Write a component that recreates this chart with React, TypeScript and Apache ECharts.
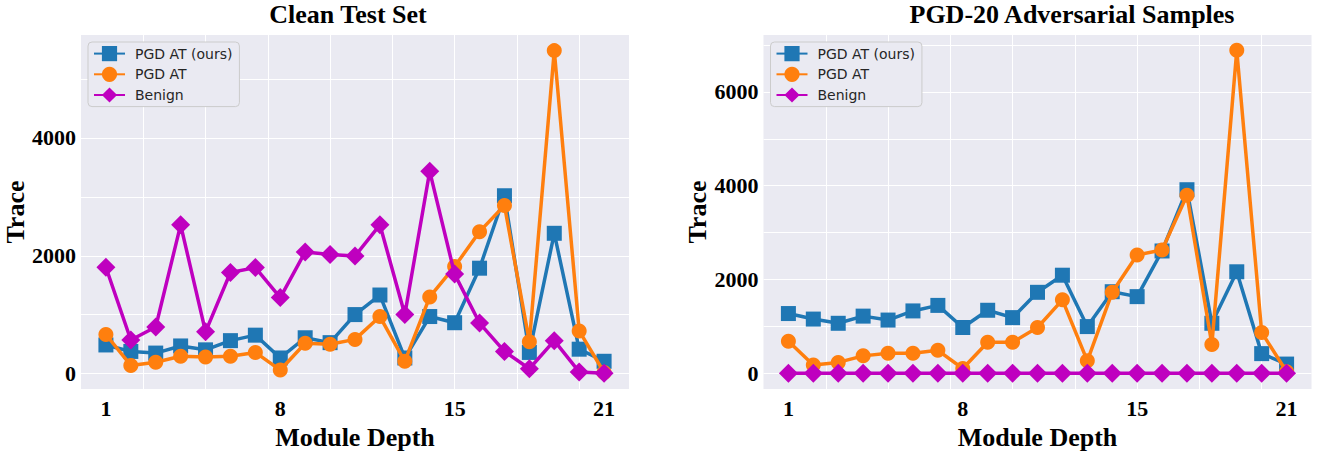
import React, { useEffect, useRef } from 'react';
import * as echarts from 'echarts';

const depths = [1, 2, 3, 4, 5, 6, 7, 8, 9, 10, 11, 12, 13, 14, 15, 16, 17, 18, 19, 20, 21];
const xTickLabels = [1, 8, 15, 21];

const cleanOurs = [487, 377, 349, 470, 404, 560, 653, 266, 609, 526, 1002, 1334, 266, 969, 864, 1789, 3018, 360, 2381, 415, 210];
const cleanPgd = [664, 139, 194, 294, 282, 294, 360, 61, 515, 498, 581, 969, 210, 1301, 1816, 2409, 2852, 543, 5480, 725, 20];
const cleanBenign = [1805, 570, 792, 2525, 709, 1716, 1799, 1290, 2065, 2021, 1995, 2525, 1002, 3433, 1689, 858, 377, 83, 560, 30, 5];

const advOurs = [1272, 1154, 1064, 1217, 1133, 1328, 1446, 974, 1342, 1185, 1725, 2090, 994, 1738, 1633, 2607, 3914, 1064, 2163, 417, 194];
const advPgd = [681, 173, 229, 369, 424, 424, 487, 100, 661, 661, 974, 1564, 264, 1725, 2523, 2628, 3796, 612, 6889, 870, 30];
const advBenign = [0, 0, 0, 0, 0, 0, 0, 0, 0, 0, 0, 0, 0, 0, 0, 0, 0, 0, 0, 0, 0];

const seriesNames = ['PGD AT (ours)', 'PGD AT', 'Benign'];
const seriesColors = ['#1f77b4', '#ff7f0e', '#bf00bf'];
const seriesSymbols = ['rect', 'circle', 'diamond'];
const symbolSizes = [15, 15, 19];

const titles = ['Clean Test Set', 'PGD-20 Adversarial Samples'];
const titleCenters = [348, 1072];
const yMins = [-262, -340];
const yMaxs = [5745, 7215];
const yLabelStep = 2000;

const SERIF = "'Liberation Serif', 'Times New Roman', serif";
const SANS = "'DejaVu Sans', sans-serif";

const grids = [
  { left: 81, top: 35, width: 548, height: 362 },
  { left: 763.5, top: 35, width: 548, height: 362 },
];

export default function App() {
  const ref = useRef<HTMLDivElement>(null);
  useEffect(() => {
    if (!ref.current) return;
    const chart = echarts.init(ref.current, null, { renderer: 'svg' });
    const panels = [
      [cleanOurs, cleanPgd, cleanBenign],
      [advOurs, advPgd, advBenign],
    ];
    const xAxis: any[] = [];
    const yAxis: any[] = [];
    const series: any[] = [];
    const legend: any[] = [];
    const title: any[] = [];
    grids.forEach((g, gi) => {
      xAxis.push({
        type: 'value', gridIndex: gi, min: 0, max: 22, minInterval: 2.5, maxInterval: 2.5,
        axisLine: { show: false }, axisTick: { show: false }, axisLabel: { show: false },
        splitLine: { show: true, showMinLine: false, showMaxLine: false, lineStyle: { color: '#ffffff', width: 1 } },
      });
      xAxis.push({
        type: 'value', gridIndex: gi, min: 0, max: 22, minInterval: 1, maxInterval: 1, position: 'bottom',
        axisLine: { show: false }, axisTick: { show: false }, splitLine: { show: false },
        axisLabel: {
          margin: 8, color: '#000', fontFamily: SERIF, fontWeight: 'bold', fontSize: 22,
          formatter: (v: number) => (xTickLabels.includes(v) ? String(v) : ''),
        },
        name: 'Module Depth', nameLocation: 'middle', nameGap: 30,
        nameTextStyle: { color: '#000', fontFamily: SERIF, fontWeight: 'bold', fontSize: 26 },
      });
      yAxis.push({
        type: 'value', gridIndex: gi, min: yMins[gi], max: yMaxs[gi], minInterval: 1000, maxInterval: 1000,
        axisLine: { show: false }, axisTick: { show: false },
        axisLabel: {
          margin: 5, color: '#000', fontFamily: SERIF, fontWeight: 'bold', fontSize: 22,
          padding: [3, 0, 0, 0],
          formatter: (v: number) => (v % yLabelStep === 0 ? String(v) : ''),
        },
        splitLine: { show: true, showMinLine: false, showMaxLine: false, lineStyle: { color: '#ffffff', width: 1 } },
        name: 'Trace', nameLocation: 'middle', nameGap: 50,
        nameTextStyle: { color: '#000', fontFamily: SERIF, fontWeight: 'bold', fontSize: 26 },
      });
      panels[gi].forEach((vals, si) => {
        series.push({
          type: 'line', name: seriesNames[si], xAxisIndex: gi * 2, yAxisIndex: gi,
          data: depths.map((d, i) => [d, vals[i]]),
          symbol: seriesSymbols[si], symbolSize: symbolSizes[si], showAllSymbol: true,
          z: 2 + si,
          lineStyle: { color: seriesColors[si], width: 3.5 },
          itemStyle: { color: seriesColors[si], borderWidth: 0 },
          emphasis: { disabled: true },
        });
      });
      legend.push({
        data: seriesNames, orient: 'vertical', left: g.left + 7, top: 42,
        itemWidth: 31, itemHeight: 19, itemGap: 5.5,
        padding: [4, 7, 4, 5],
        backgroundColor: '#EAEAF2', borderColor: '#cccccc', borderWidth: 1, borderRadius: 4,
        textStyle: { fontFamily: SANS, fontSize: 14, color: '#262626', padding: [0, 0, 0, 5] },
        selectedMode: false,
      });
      title.push({
        text: titles[gi], left: titleCenters[gi], top: 1, textAlign: 'center', padding: 0,
        textStyle: { color: '#000', fontFamily: SERIF, fontWeight: 'bold', fontSize: 26 },
      });
    });
    chart.setOption({
      animation: false,
      backgroundColor: '#ffffff',
      title,
      legend,
      grid: grids.map((g) => ({ ...g, backgroundColor: '#EAEAF2', show: true, borderWidth: 0 })),
      xAxis,
      yAxis,
      series,
    });
    return () => chart.dispose();
  }, []);
  return (
    <div
      ref={ref}
      style={{ position: 'fixed', left: 0, top: 0, width: 1317, height: 455 }}
    />
  );
}
